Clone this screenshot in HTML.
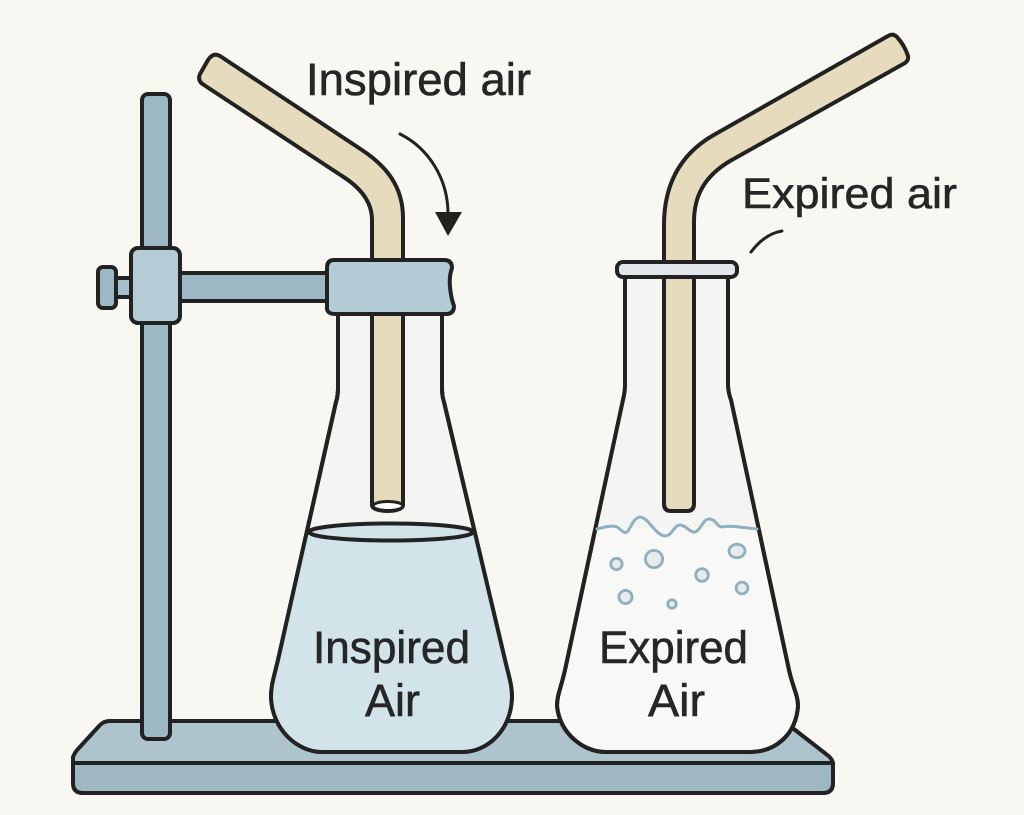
<!DOCTYPE html>
<html><head><meta charset="utf-8">
<style>html,body{margin:0;padding:0;background:#f9f7f2}svg{display:block}
text{font-family:"Liberation Sans",sans-serif;fill:#262626;stroke:#262626;stroke-width:.6}</style></head>
<body>
<svg width="1024" height="815" viewBox="0 0 1024 815" xmlns="http://www.w3.org/2000/svg">
<rect width="1024" height="815" fill="#f9f7f2"/>
<g stroke="#222" stroke-width="4" stroke-linejoin="round">
<!-- base -->
<path d="M73 763 L73 757 Q75 752 78 749 L100 725 Q104 721 110 721 L778 721 Q784 721 790 726 L826 754 Q832 758 833 763 Z" fill="#aec4cd"/>
<path d="M73 763 H833 V783 Q833 793 823 793 H83 Q73 793 73 783 Z" fill="#9fb7c3"/>
<!-- rod -->
<rect x="142" y="94" width="28" height="645" rx="6" fill="#9db8c5"/>
<!-- arm & screw -->
<rect x="115" y="278" width="17" height="19" fill="#a5bfcb"/>
<rect x="98" y="267" width="18" height="41" rx="5" fill="#9db8c5"/>
<rect x="178" y="273" width="152" height="28" fill="#9db8c5"/>
<rect x="131" y="248" width="49" height="75" rx="7" fill="#b5ccd6"/>

<!-- left flask -->
<path d="M338 312 V388 Q338 396 336 402 L278 660 C274 677 271 685 271 697 C272 730 298 752 322 752 H462 C488 752 511 730 512 697 C512 685 509 677 505 660 L444 402 Q442 396 442 388 V312 Z" fill="#f4f4f2"/>
<path d="M308 532 L278 660 C274 677 271 685 271 697 C272 730 298 752 322 752 H462 C488 752 511 730 512 697 C512 685 509 677 505 660 L474 532 Z" fill="#d3e3ea" stroke="none"/>
<path d="M338 312 V388 Q338 396 336 402 L278 660 C274 677 271 685 271 697 C272 730 298 752 322 752 H462 C488 752 511 730 512 697 C512 685 509 677 505 660 L444 402 Q442 396 442 388 V312 Z" fill="none"/>
<ellipse cx="391" cy="532" rx="82" ry="8.500" fill="#d3e3ea"/>
<!-- left tube -->
<path d="M372 505 V220 C372 200 358 186 342 176 L204 85 Q197 81 200 74 L208 60 Q213 52 220 56 L362 150 C386 166 403 186 403 218 V505 C403 513 372 513 372 505 Z" fill="#e6dcbd"/>
<ellipse cx="388" cy="506" rx="15" ry="4.500" fill="#fff" stroke-width="3"/>
<!-- collar -->
<path d="M334 260 H444 Q452 260 452 268 Q449 276 450 287 Q451 298 454 306 Q454 314 446 314 H335 Q326 314 327 306 V268 Q327 260 334 260 Z" fill="#b3cbd5"/>

<!-- right flask -->
<path d="M625 276 V385 Q625 392 623 400 L565 670 C561 688 557 695 557 706 C560 735 585 752 605 752 H750 C775 752 796 735 798 706 C798 695 793 688 789 670 L731 400 Q728 392 728 385 V276 Z" fill="#f8f8f7"/>
<path d="M625 276 V385 Q625 392 623 400 L598 512 L595 528 L759 528 L755 512 L731 400 Q728 392 728 385 V276 Z" fill="#f4f4f3" stroke="none"/>
<path d="M625 276 V385 Q625 392 623 400 L565 670 C561 688 557 695 557 706 C560 735 585 752 605 752 H750 C775 752 796 735 798 706 C798 695 793 688 789 670 L731 400 Q728 392 728 385 V276 Z" fill="none"/>
<!-- right tube -->
<path d="M664 504 V225 C664 185 680 155 712 136 L888 36 Q893 33 897 37 Q905 46 908 56 Q909 60 905 63 L730 161 C705 176 694 195 694 222 V504 Q694 511 687 511 H671 Q664 511 664 504 Z" fill="#e6dcbd"/>
<!-- rim -->
<rect x="617" y="262" width="120" height="15" rx="6" fill="#e1e7ea"/>
</g>
<!-- wave -->
<path d="M597 529 C605 527 612 525 617 527 C622 530 624 534 627 532 C631 528 633 518 640 517 C648 517 655 535 665 536 C672 536 674 525 680 525 C686 525 690 533 695 532 C701 530 703 519 709 519 C716 519 717 527 722 527 C732 525 745 528 757 529" fill="none" stroke="#8fb0c0" stroke-width="3" stroke-linecap="round"/>
<!-- bubbles -->
<g fill="#e9eaea" stroke="#8fb0c0" stroke-width="2.800">
<circle cx="616.500" cy="564" r="5.700"/>
<circle cx="654" cy="559" r="8.600"/>
<ellipse cx="737" cy="551" rx="8" ry="6.700"/>
<circle cx="702" cy="575" r="6.300"/>
<circle cx="742" cy="588" r="5.900"/>
<circle cx="625.500" cy="597" r="6.600"/>
<circle cx="672" cy="604" r="4.200"/>
</g>
<!-- arrow -->
<path d="M400 134 C428 148 448 178 448 214" fill="none" stroke="#222" stroke-width="3" stroke-linecap="round"/>
<path d="M435 212 H462 L448 236 Z" fill="#222"/>
<path d="M751 252 C760 240 770 233 782 231" fill="none" stroke="#222" stroke-width="3" stroke-linecap="round"/>
<!-- text -->
<text x="306" y="95" font-size="45" textLength="225" lengthAdjust="spacingAndGlyphs">Inspired air</text>
<text x="742" y="208" font-size="43" textLength="215" lengthAdjust="spacingAndGlyphs">Expired air</text>
<text x="313" y="663" font-size="45" textLength="157" lengthAdjust="spacingAndGlyphs">Inspired</text>
<text x="365" y="716" font-size="45" textLength="55" lengthAdjust="spacingAndGlyphs">Air</text>
<text x="599" y="663" font-size="45" textLength="149" lengthAdjust="spacingAndGlyphs">Expired</text>
<text x="648" y="716" font-size="45" textLength="57" lengthAdjust="spacingAndGlyphs">Air</text>
</svg>
</body></html>
